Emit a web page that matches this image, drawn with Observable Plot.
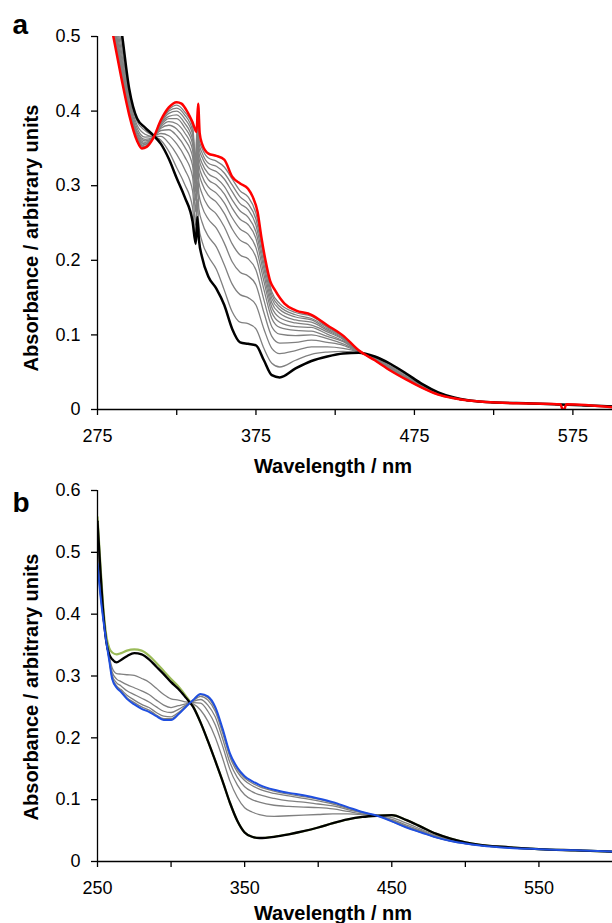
<!DOCTYPE html>
<html><head><meta charset="utf-8">
<script src="https://cdn.jsdelivr.net/npm/d3@7"></script>
<script src="https://cdn.jsdelivr.net/npm/@observablehq/plot@0.6"></script>
<style>body{margin:0;background:#fff} svg{display:block}</style>
</head><body><div id="chart"></div>
<script>
// ---------- Panel a ----------
const wlA = [275,280,285,290,295,300,305,310,315,320,325,330,335,337,338,339,341,345,350,355,360,365,370,375,380,385,390,400,410,420,430,440,450,460,470,480,490,500,520,550,600];
const blackA = [.71,.64,.575,.51,.43,.39,.378,.368,.356,.336,.31,.285,.252,.222,.258,.228,.204,.178,.162,.14,.108,.09,.088,.086,.066,.046,.043,.055,.065,.071,.075,.076,.071,.061,.048,.034,.023,.016,.010,.008,.004];
const grayA = [
 [.633,.563,.503,.448,.396,.361,.351,.363,.387,.402,.408,.399,.380,.334,.396,.362,.350,.337,.333,.325,.309,.293,.285,.263,.209,.158,.142,.130,.125,.111,.098,.079,.066,.052,.040,.029,.020,.015,.010,.008,.004],
 [.636,.566,.506,.450,.398,.362,.352,.363,.385,.400,.404,.395,.374,.328,.390,.357,.344,.330,.326,.317,.301,.285,.276,.255,.203,.154,.138,.127,.122,.110,.097,.079,.066,.053,.041,.029,.020,.015,.010,.008,.004],
 [.640,.570,.509,.453,.399,.364,.353,.364,.384,.397,.400,.390,.369,.323,.385,.351,.338,.324,.319,.309,.292,.276,.268,.247,.196,.149,.134,.124,.120,.108,.096,.079,.067,.053,.041,.030,.020,.015,.010,.008,.004],
 [.644,.574,.513,.456,.401,.365,.355,.364,.383,.393,.395,.384,.362,.316,.378,.344,.330,.316,.310,.299,.281,.266,.258,.238,.189,.143,.129,.120,.117,.106,.095,.078,.067,.054,.041,.030,.021,.015,.010,.008,.004],
 [.648,.578,.517,.459,.403,.367,.356,.364,.381,.390,.390,.378,.356,.310,.371,.337,.323,.308,.301,.289,.270,.255,.248,.229,.181,.137,.123,.116,.113,.104,.094,.078,.067,.054,.042,.030,.021,.015,.010,.008,.004],
 [.652,.582,.521,.463,.405,.368,.358,.364,.379,.386,.383,.371,.348,.302,.363,.328,.313,.298,.290,.277,.257,.242,.235,.217,.172,.130,.117,.111,.110,.101,.092,.078,.067,.055,.042,.030,.021,.015,.010,.008,.004],
 [.658,.588,.526,.468,.407,.371,.360,.365,.377,.381,.376,.362,.339,.292,.353,.318,.303,.287,.278,.263,.242,.227,.221,.204,.161,.122,.110,.106,.105,.098,.091,.078,.068,.055,.043,.031,.021,.015,.010,.008,.004],
 [.665,.595,.533,.474,.410,.373,.362,.365,.374,.375,.367,.352,.327,.280,.340,.305,.289,.272,.262,.245,.222,.207,.202,.187,.147,.111,.101,.099,.100,.095,.088,.078,.068,.056,.044,.031,.021,.015,.010,.008,.004],
 [.674,.604,.541,.481,.414,.377,.365,.366,.370,.367,.356,.339,.312,.265,.325,.289,.272,.255,.243,.223,.198,.184,.179,.167,.130,.098,.089,.090,.093,.090,.086,.077,.069,.057,.044,.032,.022,.016,.010,.008,.004],
 [.685,.615,.552,.490,.419,.381,.369,.366,.366,.357,.342,.322,.293,.247,.306,.269,.251,.232,.218,.194,.168,.154,.150,.140,.108,.082,.075,.079,.084,.084,.082,.077,.069,.058,.046,.032,.022,.016,.010,.008,.004],
 [.699,.629,.565,.501,.425,.386,.374,.367,.361,.346,.324,.302,.271,.224,.282,.245,.225,.205,.188,.160,.131,.117,.115,.108,.082,.062,.057,.066,.074,.077,.078,.076,.070,.060,.047,.033,.023,.016,.010,.008,.004]
];
const wlRed = [275,280,285,290,295,300,303,306,310,315,320,325,328,332,335,337.5,338.5,339.5,341,345,350,355,360,365,370,373,376,378.5,381,384,387,393,400,410,420,430,440,450,460,470,480,490,500,520,550,567,569,571,600];
const absRed = [.63,.56,.50,.445,.395,.36,.35,.352,.363,.388,.405,.412,.41,.398,.385,.372,.41,.37,.356,.343,.34,.335,.312,.303,.296,.285,.265,.23,.20,.172,.16,.142,.133,.127,.113,.099,.079,.066,.052,.040,.029,.020,.015,.010,.008,.007,-.002,.007,.003];
const xTicksA = [275,325,375,425,475,525,575];
const xLabelsA = [275,375,475,575];
const yTicksA = [0,0.1,0.2,0.3,0.4,0.5];

// ---------- Panel b ----------
const wlB = [250,252,254,256,258,260,263,266,270,275,280,285,290,295,300,305,310,315,320,325,330,335,340,345,350,355,360,370,380,390,400,410,420,430,440,450,460,470,480,490,500,510,530,550,575,600];
const blackB = [.55,.47,.40,.355,.335,.327,.322,.326,.332,.337,.335,.327,.315,.303,.29,.279,.265,.25,.225,.195,.163,.13,.095,.066,.047,.04,.038,.04,.044,.049,.055,.062,.068,.072,.074,.075,.067,.056,.045,.037,.031,.027,.023,.02,.018,.016];
const greenB = [.557,.48,.41,.365,.345,.338,.335,.337,.341,.343,.341,.333,.321,.308,.295,.283,.268,.251,.225,.195,.163,.13,.095,.066,.047,.04,.038,.04,.044,.049,.055,.062,.068,.072,.074,.075,.067,.056,.045,.037,.031,.027,.023,.02,.018,.016];
const blueB = [.482,.43,.39,.355,.325,.295,.281,.274,.263,.254,.247,.242,.235,.229,.229,.238,.25,.261,.271,.267,.25,.215,.175,.152,.138,.13,.124,.116,.111,.107,.102,.096,.088,.08,.074,.065,.055,.047,.039,.033,.029,.026,.022,.02,.018,.016];
const grayB = [
 [.520,.452,.396,.355,.331,.313,.304,.303,.302,.301,.296,.290,.280,.270,.263,.261,.258,.255,.245,.227,.201,.167,.130,.104,.087,.080,.076,.073,.074,.075,.076,.077,.077,.076,.074,.071,.062,.052,.042,.035,.030,.027,.023,.020,.018,.016],
 [.504,.443,.393,.355,.328,.306,.295,.291,.286,.281,.276,.270,.261,.253,.249,.252,.255,.257,.256,.243,.221,.187,.149,.124,.108,.100,.096,.091,.089,.088,.087,.085,.081,.077,.074,.068,.059,.050,.041,.034,.030,.026,.023,.020,.018,.016],
 [.495,.438,.392,.355,.327,.301,.289,.284,.276,.270,.264,.258,.250,.243,.241,.246,.253,.259,.262,.253,.234,.199,.160,.136,.121,.113,.108,.102,.098,.096,.093,.090,.084,.079,.074,.067,.057,.049,.040,.034,.029,.026,.023,.020,.018,.016],
 [.487,.433,.391,.355,.326,.298,.284,.278,.269,.261,.254,.249,.241,.235,.234,.241,.251,.260,.267,.261,.243,.208,.169,.145,.131,.123,.117,.110,.106,.102,.098,.093,.086,.079,.074,.066,.056,.048,.039,.033,.029,.026,.023,.020,.018,.016],
 [.484,.431,.390,.355,.325,.296,.282,.276,.265,.257,.250,.245,.237,.231,.231,.239,.250,.261,.270,.265,.247,.213,.173,.149,.135,.127,.121,.114,.109,.105,.101,.095,.087,.080,.074,.065,.055,.047,.039,.033,.029,.026,.023,.020,.018,.016]
];
const xTicksB = [250,300,350,400,450,500,550];
const xLabelsB = [250,350,450,550];
const yTicksB = [0,0.1,0.2,0.3,0.4,0.5,0.6];

const xTitle = "Wavelength / nm";
const yTitle = "Absorbance / arbitrary units";

// ---------- helpers ----------
const rows = (wl, vals, id) => wl.map((w, i) => ({wl: w, a: vals[i], id}));
const FONT = "'Liberation Sans', Arial, Helvetica, sans-serif";
const curve = "monotone-x";

function panel(o) {
  return Plot.plot({
    width: 612, height: o.height,
    marginLeft: 97, marginRight: 0, marginTop: o.marginTop, marginBottom: o.marginBottom,
    x: {domain: o.xDomain, label: null},
    y: {domain: o.yDomain, label: null},
    style: {fontFamily: FONT, fontSize: "18px", color: "#000", background: "#fff", overflow: "visible"},
    marks: [
      ...o.lines,
      Plot.ruleX([o.xDomain[0]], {stroke: "#000", strokeWidth: 1.3}),
      Plot.ruleY([0], {stroke: "#000", strokeWidth: 1.3}),
      Plot.axisX(o.xTicks, {anchor: "bottom", tickSize: 6, tickPadding: 14, strokeWidth: 1.3, fontSize: 18,
        tickFormat: d => o.xLabels.includes(d) ? String(d) : ""}),
      Plot.axisY(o.yTicks, {anchor: "left", tickSize: 6, tickPadding: 11, strokeWidth: 1.3, fontSize: 18,
        tickFormat: d => d === 0 ? "0" : d.toFixed(1)}),
      Plot.text([xTitle], {frameAnchor: "bottom", dx: -22, dy: o.xTitleDy, textAnchor: "middle", lineAnchor: "bottom", fontWeight: "bold", fontSize: 20}),
      Plot.text([yTitle], {frameAnchor: "left", dx: -66, dy: o.yTitleDy, rotate: -90, textAnchor: "middle", lineAnchor: "middle", fontWeight: "bold", fontSize: 20}),
      Plot.text([o.letter], {frameAnchor: "top-left", dx: -85, dy: o.letterDy, textAnchor: "start", lineAnchor: "bottom", fontWeight: "bold", fontSize: 28})
    ]
  });
}

const grayRowsA = grayA.flatMap((g, k) => rows(wlA, g, "g" + k));
const plotA = panel({
  height: 478, marginTop: 36, marginBottom: 69,
  xDomain: [275, 600], yDomain: [0, 0.5],
  xTicks: xTicksA, xLabels: xLabelsA, yTicks: yTicksA,
  xTitleDy: 63, yTitleDy: 15, letter: "a", letterDy: -3,
  lines: [
    Plot.line(grayRowsA, {x: "wl", y: "a", z: "id", stroke: "#808080", strokeWidth: 1.3, curve, clip: true}),
    Plot.line(rows(wlA, blackA, "black"), {x: "wl", y: "a", stroke: "#000", strokeWidth: 2.5, curve, clip: true}),
    Plot.line(rows(wlRed, absRed, "red"), {x: "wl", y: "a", stroke: "#ff0000", strokeWidth: 2.5, curve, clip: true})
  ]
});

const grayRowsB = grayB.flatMap((g, k) => rows(wlB, g, "g" + k));
const plotB = panel({
  height: 445, marginTop: 12, marginBottom: 62,
  xDomain: [250, 600], yDomain: [0, 0.6],
  xTicks: xTicksB, xLabels: xLabelsB, yTicks: yTicksB,
  xTitleDy: 58, yTitleDy: 11, letter: "b", letterDy: 21,
  lines: [
    Plot.line(rows(wlB, greenB, "green"), {x: "wl", y: "a", stroke: "#9bbb59", strokeWidth: 2.2, curve, clip: true}),
    Plot.line(grayRowsB, {x: "wl", y: "a", z: "id", stroke: "#808080", strokeWidth: 1.3, curve, clip: true}),
    Plot.line(rows(wlB, blackB, "black"), {x: "wl", y: "a", stroke: "#000", strokeWidth: 2.3, curve, clip: true}),
    Plot.line(rows(wlB, blueB, "blue"), {x: "wl", y: "a", stroke: "#1f4fe0", strokeWidth: 2, curve, clip: true})
  ]
});

const root = document.getElementById("chart");
root.appendChild(plotA);
root.appendChild(plotB);
</script>
</body></html>
